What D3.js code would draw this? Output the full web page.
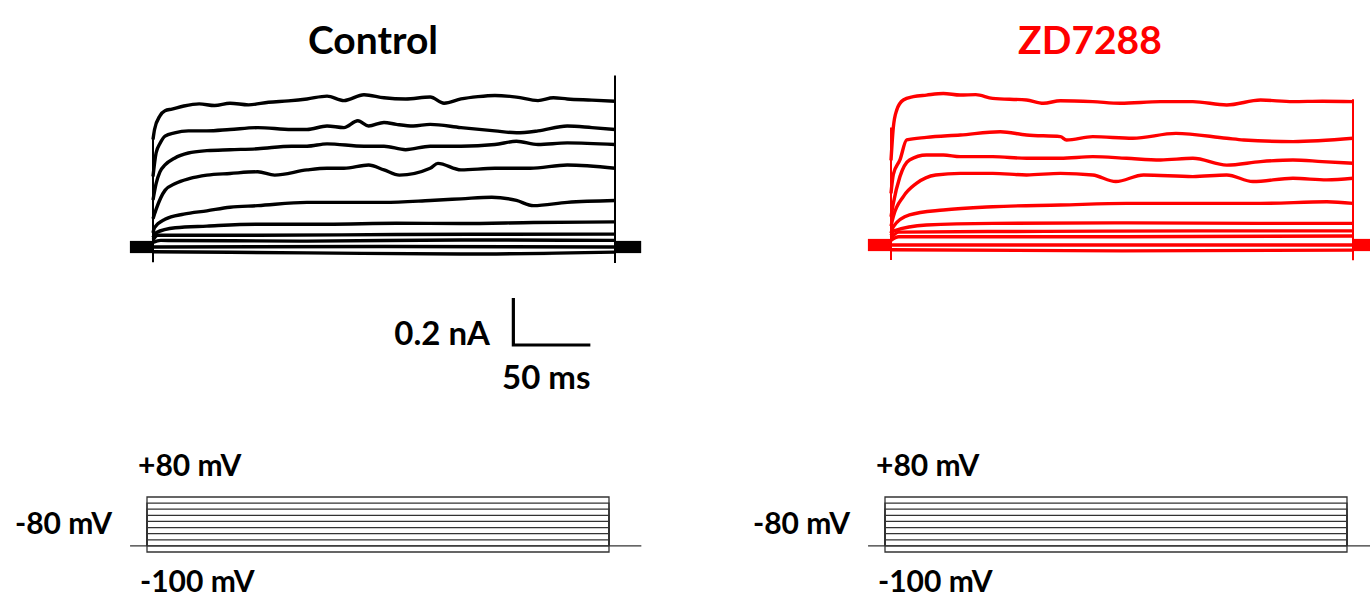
<!DOCTYPE html>
<html>
<head>
<meta charset="utf-8">
<script src="https://cdn.jsdelivr.net/npm/d3@7"></script>
<style>
  body { margin: 0; background: #fff; }
  text { font-family: Lato, "Open Sans", sans-serif; font-weight: 700; }
</style>
</head>
<body>
<svg id="chart" width="1370" height="597"></svg>
<script>
// ---- data (time in ms from step onset, current in nA) ----
const stepMs = 300;
const holdingMv = -80;
const stepVoltages = [80, 60, 40, 20, 0, -20, -40, -60, -80, -100];

// control traces, top (+80 mV) to bottom (-100 mV)
const controlTraces = [
  [[0,0.457],[1,0.50],[4.5,0.558],[7.8,0.58],[12.3,0.587],[20,0.60],[30,0.609],[40,0.602],[50,0.612],[62,0.605],[75,0.616],[88,0.622],[100,0.63],[113,0.642],[124,0.623],[137,0.648],[150,0.635],[164,0.63],[180,0.638],[189,0.612],[200,0.63],[211,0.64],[222,0.645],[236,0.638],[250,0.623],[260,0.635],[269,0.63],[285,0.625],[300,0.62]],
  [[0,0.30],[2,0.40],[4.5,0.44],[7.8,0.472],[14,0.486],[23,0.494],[35,0.494],[50,0.50],[68,0.508],[90,0.50],[100,0.50],[113,0.515],[124,0.508],[133,0.537],[140,0.515],[150,0.53],[158,0.522],[169,0.515],[180,0.522],[200,0.508],[222,0.494],[236,0.486],[250,0.494],[269,0.515],[285,0.508],[300,0.50]],
  [[0,0.20],[2,0.27],[4.5,0.32],[7.8,0.349],[14,0.378],[23,0.40],[35,0.41],[50,0.414],[68,0.418],[90,0.429],[100,0.429],[113,0.439],[137,0.429],[150,0.429],[164,0.414],[180,0.429],[200,0.429],[222,0.436],[236,0.45],[250,0.436],[269,0.443],[300,0.436]],
  [[0,0.12],[2,0.16],[7.8,0.241],[14.5,0.27],[23.5,0.291],[35,0.306],[50,0.313],[68,0.32],[79,0.306],[100,0.328],[113,0.335],[124,0.335],[140,0.349],[150,0.328],[160,0.306],[180,0.335],[185,0.356],[200,0.328],[222,0.335],[245,0.335],[269,0.349],[300,0.335]],
  [[0,0.06],[1,0.082],[7.8,0.118],[20,0.14],[35,0.154],[50,0.169],[68,0.176],[100,0.19],[124,0.19],[150,0.19],[180,0.198],[200,0.205],[220,0.212],[236,0.198],[247,0.176],[269,0.19],[300,0.198]],
  [[0,0.04],[2,0.061],[14.5,0.082],[35,0.089],[68,0.097],[113,0.097],[158,0.101],[200,0.10],[247,0.104],[300,0.107]],
  [[0,0.03],[3,0.05],[68,0.05],[158,0.053],[300,0.055]],
  [[0,0.02],[5,0.028],[100,0.025],[200,0.03],[300,0.028]],
  [[0,0.0],[150,0.002],[300,0.0]],
  [[0,-0.02],[100,-0.025],[200,-0.03],[300,-0.022]]
];

// ZD7288 traces, same order
const zdTraces = [
  [[0,0.36],[1.5,0.50],[3.7,0.574],[8,0.617],[14.5,0.631],[23,0.638],[34,0.645],[45,0.638],[55,0.64],[66,0.624],[88,0.617],[99,0.603],[110,0.614],[131,0.61],[149,0.603],[175,0.61],[196,0.61],[218,0.596],[240,0.617],[261,0.61],[280,0.612],[300,0.61]],
  [[0,0.22],[1.5,0.30],[5.8,0.362],[10.2,0.447],[23,0.458],[45,0.468],[71,0.482],[88,0.468],[110,0.461],[114,0.447],[131,0.461],[157,0.454],[185,0.475],[218,0.454],[229,0.447],[261,0.44],[300,0.454]],
  [[0,0.12],[1.5,0.177],[5.8,0.291],[12,0.362],[23,0.383],[34,0.383],[45,0.376],[66,0.376],[88,0.369],[110,0.369],[131,0.376],[153,0.369],[175,0.362],[196,0.369],[218,0.34],[240,0.355],[261,0.362],[280,0.355],[300,0.348]],
  [[0,0.08],[1.5,0.121],[8,0.206],[16.5,0.262],[29,0.298],[45,0.305],[66,0.305],[88,0.298],[110,0.305],[131,0.298],[146,0.27],[164,0.298],[196,0.291],[218,0.298],[235,0.27],[261,0.284],[283,0.277],[300,0.284]],
  [[0,0.05],[1.5,0.078],[12,0.128],[34,0.149],[66,0.163],[110,0.17],[153,0.177],[196,0.177],[240,0.177],[283,0.184],[300,0.177]],
  [[0,0.04],[2,0.06],[23,0.085],[66,0.092],[153,0.094],[240,0.092],[300,0.092]],
  [[0,0.03],[5,0.055],[100,0.058],[200,0.06],[300,0.06]],
  [[0,0.02],[5,0.035],[150,0.035],[300,0.038]],
  [[0,0],[300,0]],
  [[0,-0.02],[150,-0.025],[300,-0.022]]
];

// capacitive artifacts at onset / offset: [min, max] in nA
const controlOnset = [-0.065, 0.46];
const controlOffset = [-0.068, 0.73];
const zdOnset = [-0.064, 0.50];
const zdOffset = [-0.065, 0.62];

// noise envelope of the holding current before/after the step
const baselineBand = [-0.026, 0.026];
const preMs = [-15, 0];
const postMs = [stepMs, 317];

// scale bar
const scaleBarMs = 50;
const scaleBarNa = 0.2;

const svg = d3.select('#chart');

function drawPanel(p) {
  const x = d3.scaleLinear().domain([0, stepMs]).range([p.x0, p.x1]);
  const y = d3.scaleLinear().domain([0, scaleBarNa]).range([p.base, p.base - 47]);

  const g = svg.append('g');

  // holding-current noise band
  const band = d3.area().x(d => x(d)).y0(y(baselineBand[0])).y1(y(baselineBand[1]));
  g.append('path').attr('d', band(preMs)).attr('fill', p.color);
  g.append('path').attr('d', band(postMs)).attr('fill', p.color);

  // artifacts
  g.append('line')
    .attr('x1', x(0)).attr('x2', x(0))
    .attr('y1', y(p.onset[0])).attr('y2', y(p.onset[1]))
    .attr('stroke', p.color).attr('stroke-width', 2);
  g.append('line')
    .attr('x1', x(stepMs)).attr('x2', x(stepMs))
    .attr('y1', y(p.offset[0])).attr('y2', y(p.offset[1]))
    .attr('stroke', p.color).attr('stroke-width', 2);

  const line = d3.line().x(d => x(d[0])).y(d => y(d[1])).curve(d3.curveMonotoneX);
  g.selectAll('path.trace')
    .data(p.traces)
    .join('path')
    .attr('class', 'trace')
    .attr('d', line)
    .attr('fill', 'none')
    .attr('stroke', p.color)
    .attr('stroke-width', 3.4)
    .attr('stroke-linejoin', 'round');

  // title
  svg.append('text')
    .attr('x', p.titleX).attr('y', 54)
    .attr('text-anchor', 'middle')
    .attr('font-size', 39)
    .attr('fill', p.titleColor)
    .text(p.title);

  // voltage protocol
  const px = d3.scaleLinear().domain([0, stepMs]).range([p.px0, p.px1]);
  const py = d3.scaleLinear().domain([-100, 80]).range([552, 497]);
  const pg = svg.append('g').attr('fill', 'none').attr('stroke', '#333').attr('stroke-width', 1.3);
  pg.append('line')
    .attr('x1', px(-11)).attr('x2', px(321))
    .attr('y1', py(holdingMv)).attr('y2', py(holdingMv));
  stepVoltages.forEach(v => {
    pg.append('path')
      .attr('d', `M${px(0)},${py(holdingMv)}V${py(v)}H${px(stepMs)}V${py(holdingMv)}`);
  });

  const lbl = (txt, xx, yy) => svg.append('text')
    .attr('x', xx).attr('y', yy).attr('font-size', 30).attr('fill', '#000').text(txt);
  lbl('+80 mV', p.px0 - 9, 476);
  lbl('-80 mV', p.px0 - 132, 534);
  lbl('-100 mV', p.px0 - 7, 592);

  return { x, y };
}

const ctrl = drawPanel({
  title: 'Control', titleColor: '#000', titleX: 373, color: '#000',
  traces: controlTraces, onset: controlOnset, offset: controlOffset,
  x0: 153, x1: 615, base: 247, px0: 147, px1: 609
});

drawPanel({
  title: 'ZD7288', titleColor: '#f00', titleX: 1090, color: '#f00',
  traces: zdTraces, onset: zdOnset, offset: zdOffset,
  x0: 891, x1: 1353, base: 245, px0: 885, px1: 1347
});

// scale bar (in control panel coordinates)
const sbT = 234, sbI = -0.417;
svg.append('path')
  .attr('d', `M${ctrl.x(sbT)},${ctrl.y(sbI + scaleBarNa)}V${ctrl.y(sbI)}H${ctrl.x(sbT + scaleBarMs)}`)
  .attr('fill', 'none').attr('stroke', '#000').attr('stroke-width', 3.2);
svg.append('text')
  .attr('x', 490).attr('y', 345).attr('text-anchor', 'end')
  .attr('font-size', 33).text(`${scaleBarNa} nA`);
svg.append('text')
  .attr('x', 502).attr('y', 389)
  .attr('font-size', 33).text(`${scaleBarMs} ms`);
</script>
</body>
</html>
